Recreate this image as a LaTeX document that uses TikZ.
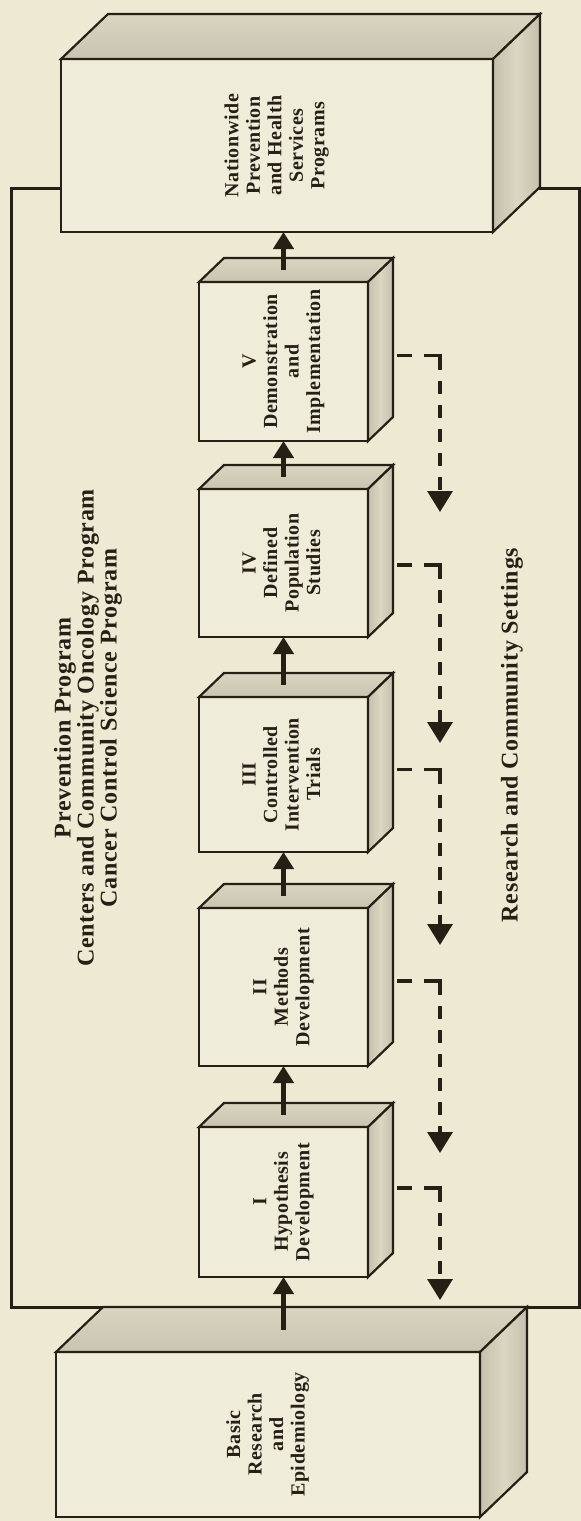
\documentclass[tikz,border=0pt]{standalone}
\usepackage{fontspec}
\setmainfont{Liberation Serif}[LetterSpace=3]
\usepackage{graphicx}
\usepackage{tikz}
\usetikzlibrary{arrows.meta,calc}

\definecolor{paper}{RGB}{237,233,210}
\definecolor{facefront}{RGB}{239,236,217}
\definecolor{facetop}{RGB}{200,196,177}
\definecolor{faceside}{RGB}{196,192,173}
\definecolor{ink}{RGB}{38,31,22}

\newcommand{\boxtext}[1]{\rotatebox{90}{\begin{tabular}{@{}c@{}}#1\end{tabular}}}

\begin{document}
\begin{tikzpicture}[x=1pt,y=-1pt,
	front/.style={draw=ink,line width=2.2pt,fill=facefront,inner sep=0pt,outer sep=0pt,text=ink,
		font=\bfseries\fontsize{20}{21.5}\selectfont},
	topface/.style={draw=ink,line width=2.2pt,top color=facetop!55!paper,bottom color=facetop},
	sideface/.style={draw=ink,line width=2.2pt,left color=faceside,right color=faceside,middle color=faceside!45!paper},
	flow/.style={draw=ink,line width=5.5pt,-{Triangle[width=20pt,length=17pt]}},
	feedback/.style={draw=ink,line width=3.4pt,
		dash pattern=on 15pt off 12pt on 30pt off 11pt on 13pt off 11pt on 13pt off 11pt on 13pt off 11pt on 13pt off 11pt on 13pt off 11pt on 13pt off 11pt on 13pt off 11pt,
		-{Triangle[width=25pt,length=21pt]}},
	title/.style={text=ink,align=center,rotate=90,font=\bfseries\fontsize{24}{20}\selectfont}]
	
	\fill[paper] (0,0) rectangle (581,1521);
	\useasboundingbox (0,0) rectangle (581,1521);
	
	% outer frame
	\draw[ink,line width=3pt] (11,188) rectangle (579,1307);
	
	% end boxes
	\node[front,minimum width=432pt,minimum height=173pt] (nat) at (277,145.5) {\boxtext{Nationwide\\Prevention\\and Health\\Services\\Programs}};
	\draw[topface] (nat.north west) -- ++(47,-45) -- ($(nat.north east)+(47,-45)$) -- (nat.north east) -- cycle;
	\draw[sideface] (nat.north east) -- ++(47,-45) -- ($(nat.south east)+(47,-45)$) -- (nat.south east) -- cycle;
	
	\node[front,minimum width=424pt,minimum height=165pt] (basic) at (268,1434.5) {\boxtext{Basic\\Research\\and\\Epidemiology}};
	\draw[topface] (basic.north west) -- ++(47,-45) -- ($(basic.north east)+(47,-45)$) -- (basic.north east) -- cycle;
	\draw[sideface] (basic.north east) -- ++(47,-45) -- ($(basic.south east)+(47,-45)$) -- (basic.south east) -- cycle;
	
	% phases
	\node[front,minimum width=169pt,minimum height=159pt] (V) at (283.5,361.5) {\boxtext{V\\Demonstration\\and\\Implementation}};
	\draw[topface] (V.north west) -- ++(25,-24) -- ($(V.north east)+(25,-24)$) -- (V.north east) -- cycle;
	\draw[sideface] (V.north east) -- ++(25,-24) -- ($(V.south east)+(25,-24)$) -- (V.south east) -- cycle;
	
	\node[front,minimum width=169pt,minimum height=148pt] (IV) at (283.5,563) {\boxtext{IV\\Defined\\Population\\Studies}};
	\draw[topface] (IV.north west) -- ++(25,-24) -- ($(IV.north east)+(25,-24)$) -- (IV.north east) -- cycle;
	\draw[sideface] (IV.north east) -- ++(25,-24) -- ($(IV.south east)+(25,-24)$) -- (IV.south east) -- cycle;
	
	\node[front,minimum width=169pt,minimum height=155pt] (III) at (283.5,774.5) {\boxtext{III\\Controlled\\Intervention\\Trials}};
	\draw[topface] (III.north west) -- ++(25,-24) -- ($(III.north east)+(25,-24)$) -- (III.north east) -- cycle;
	\draw[sideface] (III.north east) -- ++(25,-24) -- ($(III.south east)+(25,-24)$) -- (III.south east) -- cycle;
	
	\node[front,minimum width=169pt,minimum height=158pt] (II) at (283.5,987) {\boxtext{II\\Methods\\Development}};
	\draw[topface] (II.north west) -- ++(25,-24) -- ($(II.north east)+(25,-24)$) -- (II.north east) -- cycle;
	\draw[sideface] (II.north east) -- ++(25,-24) -- ($(II.south east)+(25,-24)$) -- (II.south east) -- cycle;
	
	\node[front,minimum width=169pt,minimum height=150pt] (I) at (283.5,1202) {\boxtext{I\\Hypothesis\\Development}};
	\draw[topface] (I.north west) -- ++(25,-24) -- ($(I.north east)+(25,-24)$) -- (I.north east) -- cycle;
	\draw[sideface] (I.north east) -- ++(25,-24) -- ($(I.south east)+(25,-24)$) -- (I.south east) -- cycle;
	
	% labels
	\node[title] (programs) at (88,728) {Prevention Program\\Centers and Community Oncology Program\\Cancer Control Science Program};
	\node[title] (settings) at (512,735) {Research and Community Settings};
	
	% forward arrows
	\draw[flow] ($(basic.north -| I.south)+(0,-22)$) -- (I.south);
	\draw[flow] ($(I.north)+(0,-12)$) -- (II.south);
	\draw[flow] ($(II.north)+(0,-12)$) -- (III.south);
	\draw[flow] ($(III.north)+(0,-12)$) -- (IV.south);
	\draw[flow] ($(IV.north)+(0,-12)$) -- (V.south);
	\draw[flow] ($(V.north)+(0,-12)$) -- (nat.south -| V.north);
	
	% feedback to the settings
	\coordinate (backV) at (440,512);
	\coordinate (backIV) at (440,743);
	\coordinate (backIII) at (440,945);
	\coordinate (backII) at (440,1153);
	\coordinate (backI) at (440,1300);
	\draw[feedback] ($(V.east)+(29,-6)$) -| (backV);
	\draw[feedback] ($(IV.east)+(29,2)$) -| (backIV);
	\draw[feedback] ($(III.east)+(29,-5)$) -| (backIII);
	\draw[feedback] ($(II.east)+(29,-6)$) -| (backII);
	\draw[feedback] ($(I.east)+(29,-14)$) -| (backI);
	
\end{tikzpicture}
\end{document}
